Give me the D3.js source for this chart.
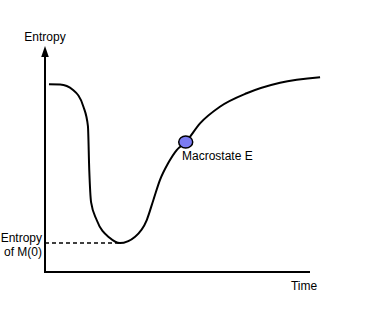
<!DOCTYPE html>
<html><head><meta charset="utf-8">
<script src="https://cdn.jsdelivr.net/npm/d3@7"></script>
<style>body{margin:0;background:#fff;}svg{display:block;}text{font-family:"Liberation Sans",Arial,sans-serif;font-size:12px;fill:#000;}</style>
</head><body>
<script>
const time = [1.5, 5.7, 10.6, 14.5, 16.2, 16.7, 17.4, 19.5, 24.5, 28.3, 34.0, 38.4, 40.9, 43.4, 46.5, 49.7, 53.1, 58.5, 66.0, 76.1, 88.7, 103.8];
const entropy = [82.3, 82.2, 79.8, 72.5, 64.0, 44.7, 30.5, 22.8, 14.9, 12.7, 15.5, 22.8, 31.6, 40.4, 47.8, 53.5, 57.0, 65.2, 72.5, 78.4, 83.0, 85.4];
const marker = {time: 53.1, entropy: 57.0, label: "Macrostate E"};
const axisLabels = {y: "Entropy", x: "Time", ref: ["Entropy", "of M(0)"]};
const minEntropy = 12.7, minTime = 28.3;

const W = 375, H = 313;
const svg = d3.select("body").append("svg").attr("width", W).attr("height", H);
const x = d3.scaleLinear().domain([0, 100]).range([45, 310]);
const y = d3.scaleLinear().domain([0, 100]).range([272, 44]);

// axes
svg.append("line").attr("x1", x(0)).attr("x2", x(100)).attr("y1", y(0)).attr("y2", y(0))
  .attr("stroke", "#000").attr("stroke-width", 2);
svg.append("line").attr("x1", x(0)).attr("x2", x(0)).attr("y1", y(0) + 1).attr("y2", 55)
  .attr("stroke", "#000").attr("stroke-width", 2);
svg.append("path").attr("d", `M${x(0)},46 L${x(0) - 3.8},57 L${x(0) + 3.8},57 Z`).attr("fill", "#000");

svg.append("text").attr("x", x(0)).attr("y", 41).attr("text-anchor", "middle").text(axisLabels.y);
svg.append("text").attr("x", 304).attr("y", 290).attr("text-anchor", "middle").text(axisLabels.x);

// dashed reference line
svg.append("line").attr("x1", x(0)).attr("x2", x(minTime)).attr("y1", y(minEntropy)).attr("y2", y(minEntropy))
  .attr("stroke", "#000").attr("stroke-width", 1.5).attr("stroke-dasharray", "4,3");
svg.append("text").attr("x", 42).attr("y", 241.5).attr("text-anchor", "end").text(axisLabels.ref[0]);
svg.append("text").attr("x", 42).attr("y", 256).attr("text-anchor", "end").text(axisLabels.ref[1]);

// curve
const pts = time.map((t, i) => [t, entropy[i]]);
const line = d3.line().x(d => x(d[0])).y(d => y(d[1])).curve(d3.curveMonotoneX);
svg.append("path").attr("d", line(pts)).attr("fill", "none").attr("stroke", "#000").attr("stroke-width", 2);

// marker
svg.append("ellipse").attr("cx", x(marker.time)).attr("cy", y(marker.entropy)).attr("rx", 7).attr("ry", 6)
  .attr("fill", "#7b7bf2").attr("stroke", "#000").attr("stroke-width", 1.5);
svg.append("text").attr("x", 182).attr("y", 159.5).text(marker.label);
</script>
</body></html>
